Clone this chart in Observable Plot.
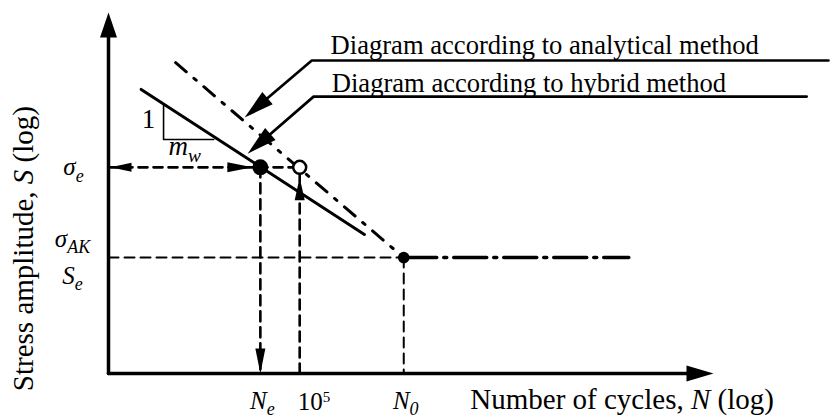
<!DOCTYPE html>
<html>
<head>
<meta charset="utf-8">
<script src="https://cdn.jsdelivr.net/npm/d3@7"></script>
<script src="https://cdn.jsdelivr.net/npm/@observablehq/plot@0.6"></script>
<style>
  html, body { margin: 0; padding: 0; background: #fff; }
</style>
</head>
<body>
<div id="chart"></div>
<script>
// ---- DATA (schematic units: x = log N, y = log S, both scaled 0–100 along the axes) ----
const Ne = 25.1, N5 = 31.6, N0 = 48.8;      // characteristic cycle numbers
const sigmaE = 57.1, Se = 32.1;             // characteristic stress levels
const axisEnds = [{x: 0, y: 100}, {x: 100, y: 0}];
const hybridLine = [{x: 5.4, y: 78.7}, {x: 42.3, y: 38.5}];
const analyticalLine = [{x: 11.1, y: 86.1}, {x: N0, y: Se}];
const enduranceLine = [{x: N0, y: Se}, {x: 86.0, y: Se}];
const slopeTriangle = [{x: 9.1, y: 74.2}, {x: 9.1, y: 64.8}, {x: 17.4, y: 64.8}];
const analyticalLeader = [{x: 119, y: 86.7}, {x: 33.6, y: 86.7}, {x: 22.5, y: 70.9}];
const hybridLeader = [{x: 115.4, y: 76.7}, {x: 33.9, y: 76.7}, {x: 23.0, y: 60.9}];
const legendLabels = [
  {x: 36.7, y: 88.6, text: "Diagram according to analytical method"},
  {x: 36.9, y: 78.1, text: "Diagram according to hybrid method"}
];
const xTickLabels = [
  {x: Ne, text: "*N*_{*e*}"},
  {x: N0, text: "*N*_{*0*}"}
];
const x5Label = [{x: N5, text: "10^{5}"}];
const yTickLabels = [
  {y: sigmaE, text: "*σ*_{*e*}"},
  {y: Se, text: "*σ*_{*AK*}"},
  {y: Se, text: "*S*_{*e*}"}
];
const slopeLabels = [{x: 6.6, y: 68.1, text: "1"}];
const slopeMLabel = [{x: 9.9, y: 60.4, text: "*m*_{*w*}"}];
const xTitle = [{x: 59.8, y: -9.7, text: "Number of cycles, *N* (log)"}];
const yTitle = [{x: -12.4, y: 34.6, text: "Stress amplitude, *S* (log)"}];

// ---- LAYOUT ----
const W = 832, H = 418, mL = 108, mR = 119, mT = 12, mB = 45;
const kx = (W - mL - mR) / 100, ky = (H - mT - mB) / 100;
const FONT = "Liberation Serif, Times New Roman, serif";

// filled arrowhead pointing from `from` to `tip` (direction in pixel space)
function head(from, tip, L, Wd) {
  let px = (tip.x - from.x) * kx, py = -(tip.y - from.y) * ky;
  const n = Math.hypot(px, py); px /= n; py /= n;
  const qx = -py, qy = px;
  return {draw(ctx) {
    ctx.moveTo(0, 0);
    ctx.lineTo(-px * L + qx * Wd / 2, -py * L + qy * Wd / 2);
    ctx.lineTo(-px * L - qx * Wd / 2, -py * L - qy * Wd / 2);
    ctx.closePath();
  }};
}
// move point `tip` back toward `from` by d pixels
function shorten(from, tip, d) {
  const px = (tip.x - from.x) * kx, py = (tip.y - from.y) * ky;
  const n = Math.hypot(px, py);
  return {x: tip.x - (px / n) * d / kx, y: tip.y - (py / n) * d / ky};
}
function headMark(from, tip, L, Wd, extra = {}) {
  return Plot.dot([tip], {x: "x", y: "y", symbol: head(from, tip, L, Wd), fill: "black", stroke: "none", ...extra});
}

const origin = {x: 0, y: 0};
const yTip = axisEnds[0], xTip = axisEnds[1];
const aL = analyticalLeader, hL = hybridLeader;

const marks = [
  // axes
  Plot.line([origin, shorten(origin, yTip, 15)], {x: "x", y: "y", stroke: "black", strokeWidth: 3.5}),
  Plot.line([origin, shorten(origin, xTip, 15)], {x: "x", y: "y", stroke: "black", strokeWidth: 3.5}),
  headMark(origin, yTip, 25, 17),
  headMark(origin, xTip, 27, 16),

  // dashed guide lines
  Plot.line([{x: 0, y: sigmaE}, {x: N5, y: sigmaE}], {x: "x", y: "y", stroke: "black", strokeWidth: 2.6, strokeDasharray: "9 6"}),
  Plot.line([{x: Ne, y: sigmaE}, {x: Ne, y: 0}], {x: "x", y: "y", stroke: "black", strokeWidth: 2.6, strokeDasharray: "10 6"}),
  Plot.line([{x: N5, y: 0}, {x: N5, y: sigmaE}], {x: "x", y: "y", stroke: "black", strokeWidth: 2.6, strokeDasharray: "10 6"}),
  Plot.line([{x: 0, y: Se}, {x: N0, y: Se}], {x: "x", y: "y", stroke: "black", strokeWidth: 2, strokeDasharray: "10 6"}),
  Plot.line([{x: N0, y: Se}, {x: N0, y: 0}], {x: "x", y: "y", stroke: "black", strokeWidth: 2, strokeDasharray: "10 6"}),
  headMark({x: Ne, y: sigmaE}, {x: 0, y: sigmaE}, 21, 9, {dx: 2}),
  headMark({x: 0, y: sigmaE}, {x: Ne, y: sigmaE}, 25, 10, {dx: -8}),
  headMark({x: Ne, y: sigmaE}, {x: Ne, y: 0}, 25, 10),
  headMark({x: N5, y: 0}, {x: N5, y: sigmaE}, 23, 10, {dy: 10}),

  // S–N curves
  Plot.line(analyticalLine, {x: "x", y: "y", stroke: "black", strokeWidth: 3, strokeDasharray: "14 10 3 10"}),
  Plot.line(enduranceLine, {x: "x", y: "y", stroke: "black", strokeWidth: 3.5, strokeDasharray: "33 7 3 7"}),
  Plot.line(hybridLine, {x: "x", y: "y", stroke: "black", strokeWidth: 3}),

  // slope triangle
  Plot.line(slopeTriangle, {x: "x", y: "y", stroke: "black", strokeWidth: 1.6}),

  // points
  Plot.dot([{x: Ne, y: sigmaE}], {x: "x", y: "y", r: 8, fill: "black", stroke: "none"}),
  Plot.dot([{x: N5, y: sigmaE}], {x: "x", y: "y", r: 6.5, fill: "white", stroke: "black", strokeWidth: 2.5}),
  Plot.dot([{x: N0, y: Se}], {x: "x", y: "y", r: 5.8, fill: "black", stroke: "none"}),

  // leader lines
  Plot.line([aL[0], aL[1], shorten(aL[1], aL[2], 16)], {x: "x", y: "y", stroke: "black", strokeWidth: 2.7, strokeLinejoin: "miter"}),
  Plot.line([hL[0], hL[1], shorten(hL[1], hL[2], 16)], {x: "x", y: "y", stroke: "black", strokeWidth: 2.7, strokeLinejoin: "miter"}),
  headMark(aL[1], aL[2], 30, 16),
  headMark(hL[1], hL[2], 30, 16),

  // texts
  Plot.text(legendLabels, {x: "x", y: "y", text: "text", textAnchor: "start", lineAnchor: "bottom", fontSize: 26.6, fill: "black"}),
  Plot.text(xTickLabels, {x: "x", y: () => -9.7, text: "text", textAnchor: "middle", lineAnchor: "bottom", fontSize: 25, fill: "black", dx: 2}),
  Plot.text(x5Label, {x: "x", y: () => -9.7, text: "text", textAnchor: "start", lineAnchor: "bottom", fontSize: 25, fill: "black", dx: -2, dy: 1}),
  Plot.text([yTickLabels[0]], {x: () => 0, y: "y", text: "text", textAnchor: "middle", lineAnchor: "bottom", fontSize: 25, fill: "black", dx: -35, dy: 8}),
  Plot.text([yTickLabels[1]], {x: () => 0, y: "y", text: "text", textAnchor: "middle", lineAnchor: "bottom", fontSize: 25, fill: "black", dx: -36, dy: -11}),
  Plot.text([yTickLabels[2]], {x: () => 0, y: "y", text: "text", textAnchor: "middle", lineAnchor: "bottom", fontSize: 25, fill: "black", dx: -36, dy: 26}),
  Plot.text(slopeLabels, {x: "x", y: "y", text: "text", textAnchor: "middle", lineAnchor: "bottom", fontSize: 27, fill: "black"}),
  Plot.text(slopeMLabel, {x: "x", y: "y", text: "text", textAnchor: "start", lineAnchor: "bottom", fontSize: 27, fill: "black"}),
  Plot.text(xTitle, {x: "x", y: "y", text: "text", textAnchor: "start", lineAnchor: "bottom", fontSize: 29, fill: "black"}),
  Plot.text(yTitle, {x: "x", y: "y", text: "text", textAnchor: "middle", lineAnchor: "bottom", fontSize: 29, fill: "black", rotate: -90})
];

const chart = Plot.plot({
  width: W, height: H,
  marginLeft: mL, marginRight: mR, marginTop: mT, marginBottom: mB,
  x: {domain: [0, 100], axis: null},
  y: {domain: [0, 100], axis: null},
  style: {fontFamily: FONT, background: "white", color: "black", overflow: "visible"},
  marks
});
document.getElementById("chart").appendChild(chart);

// rich text: *italic*, _{subscript}, ^{superscript}
function rich(el, src, fs) {
  const segs = []; let buf = "", italic = false, level = 0;
  const push = () => { if (buf) segs.push({t: buf, italic, level}); buf = ""; };
  for (let i = 0; i < src.length; i++) {
    const c = src[i];
    if (c === "*") { push(); italic = !italic; }
    else if ((c === "_" || c === "^") && src[i + 1] === "{") { push(); level = c === "_" ? 1 : -1; i++; }
    else if (c === "}" && level !== 0) { push(); level = 0; }
    else buf += c;
  }
  push();
  el.textContent = "";
  let shift = 0;
  for (const s of segs) {
    const ts = document.createElementNS("http://www.w3.org/2000/svg", "tspan");
    const target = s.level === 1 ? fs * 0.26 : s.level === -1 ? -fs * 0.3 : 0;
    if (target !== shift) { ts.setAttribute("dy", target - shift); shift = target; }
    if (s.level === 1) ts.setAttribute("font-size", (fs * 0.72).toFixed(1));
    if (s.level === -1) ts.setAttribute("font-size", (fs * 0.6).toFixed(1));
    if (s.italic) ts.setAttribute("font-style", "italic");
    ts.textContent = s.t;
    el.appendChild(ts);
  }
}
chart.querySelectorAll("text").forEach(el => {
  const s = el.textContent;
  if (/[*_^]/.test(s)) rich(el, s, parseFloat(getComputedStyle(el).fontSize));
});
</script>
</body>
</html>
